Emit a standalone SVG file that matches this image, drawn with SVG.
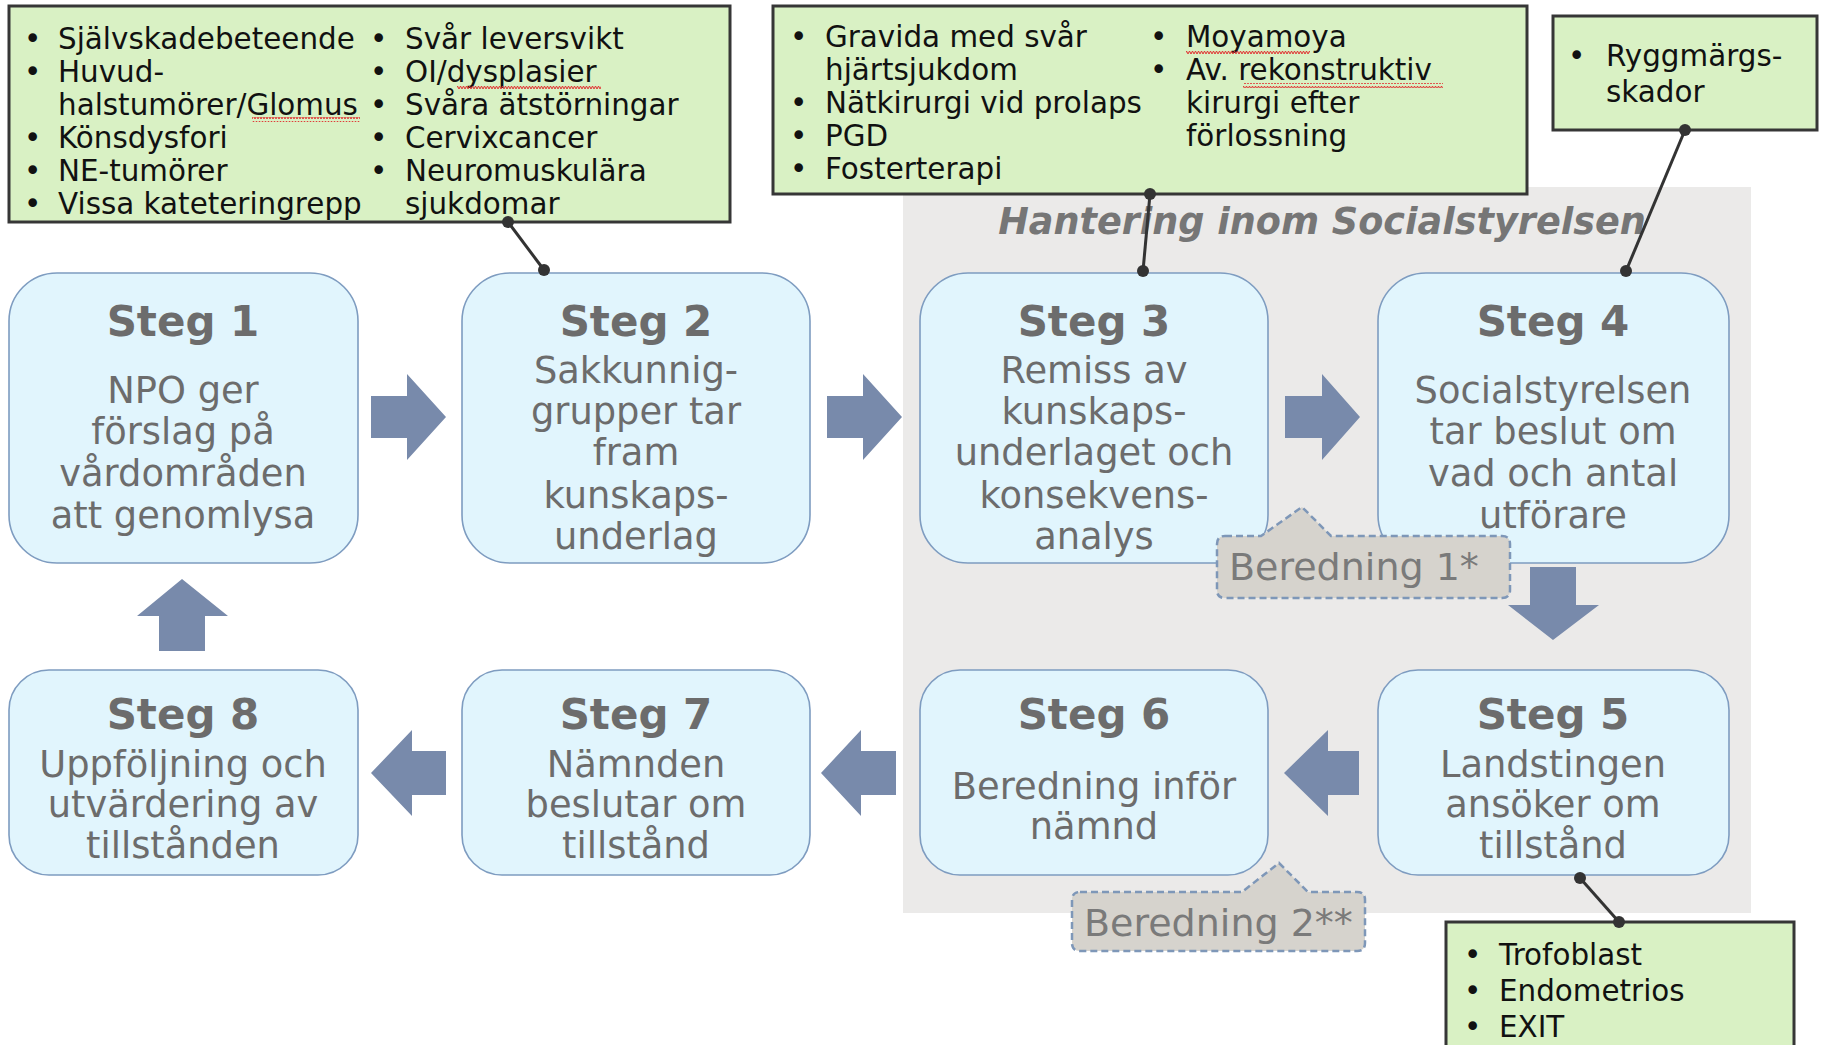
<svg xmlns="http://www.w3.org/2000/svg" width="1823" height="1045" viewBox="0 0 1823 1045">
<style>
.green{fill:#d9f1c4;stroke:#363636;stroke-width:3}
.step{fill:#e1f5fd;stroke:#7e9cc0;stroke-width:1.6}
.arrow{fill:#788aab}
.gt{font-family:"DejaVu Sans",Verdana,sans-serif;font-size:29.4px;fill:#111}
.title{font-family:"DejaVu Sans",Verdana,sans-serif;font-size:42px;font-weight:bold;fill:#6c6c6c;text-anchor:middle}
.body{font-family:"DejaVu Sans",Verdana,sans-serif;font-size:36.8px;fill:#6c6c6c;text-anchor:middle}
.ber{fill:#d6d3cd;stroke:#7e97b8;stroke-width:2.5;stroke-dasharray:7 4}
.bt{font-family:"DejaVu Sans",Verdana,sans-serif;font-size:38px;fill:#7a7a7a}
.conn{stroke:#333;stroke-width:3;fill:none}
.dot{fill:#333}
</style>
<defs>
<pattern id="wave" width="6" height="5" patternUnits="userSpaceOnUse">
<polyline points="0,4 1.5,1 3,4 4.5,1 6,4" fill="none" stroke="#e03030" stroke-width="1"/>
</pattern>
</defs>
<rect width="1823" height="1045" fill="#ffffff"/>
<rect id="socialstyrelsen-bg" x="903" y="187" width="848" height="726" fill="#ebeae9"/>
<text x="1322" y="234" text-anchor="middle" style="font-family:'DejaVu Sans',Verdana,sans-serif;font-size:36.6px;font-weight:bold;font-style:italic;fill:#767676">Hantering inom Socialstyrelsen</text>

<g id="list1">
<rect class="green" x="9" y="6" width="721" height="216"/>
<text class="gt"><tspan x="24" y="49">•</tspan><tspan x="58" y="49">Självskadebeteende</tspan><tspan x="24" y="82">•</tspan><tspan x="58" y="82">Huvud-</tspan><tspan x="58" y="115">halstumörer/Glomus</tspan><tspan x="24" y="148">•</tspan><tspan x="58" y="148">Könsdysfori</tspan><tspan x="24" y="181">•</tspan><tspan x="58" y="181">NE-tumörer</tspan><tspan x="24" y="214">•</tspan><tspan x="58" y="214">Vissa kateteringrepp</tspan></text>
<text class="gt"><tspan x="370" y="49">•</tspan><tspan x="405" y="49">Svår leversvikt</tspan><tspan x="370" y="82">•</tspan><tspan x="405" y="82">OI/dysplasier</tspan><tspan x="370" y="115">•</tspan><tspan x="405" y="115">Svåra ätstörningar</tspan><tspan x="370" y="148">•</tspan><tspan x="405" y="148">Cervixcancer</tspan><tspan x="370" y="181">•</tspan><tspan x="405" y="181">Neuromuskulära</tspan><tspan x="405" y="214">sjukdomar</tspan></text>
<rect x="252" y="117" width="108" height="5" fill="url(#wave)"/>
<rect x="457" y="84" width="144" height="5" fill="url(#wave)"/>
</g>

<g id="list2">
<rect class="green" x="773" y="6" width="754" height="188"/>
<text class="gt"><tspan x="790" y="47">•</tspan><tspan x="825" y="47">Gravida med svår</tspan><tspan x="825" y="80">hjärtsjukdom</tspan><tspan x="790" y="113">•</tspan><tspan x="825" y="113">Nätkirurgi vid prolaps</tspan><tspan x="790" y="146">•</tspan><tspan x="825" y="146">PGD</tspan><tspan x="790" y="179">•</tspan><tspan x="825" y="179">Fosterterapi</tspan></text>
<text class="gt"><tspan x="1150" y="47">•</tspan><tspan x="1186" y="47">Moyamoya</tspan><tspan x="1150" y="80">•</tspan><tspan x="1186" y="80">Av. rekonstruktiv</tspan><tspan x="1186" y="113">kirurgi efter</tspan><tspan x="1186" y="146">förlossning</tspan></text>
<rect x="1186" y="50" width="124" height="5" fill="url(#wave)"/>
<rect x="1243" y="83" width="200" height="5" fill="url(#wave)"/>
</g>

<g id="list3">
<rect class="green" x="1553" y="16" width="264" height="114"/>
<text class="gt"><tspan x="1568" y="66">•</tspan><tspan x="1606" y="66">Ryggmärgs-</tspan><tspan x="1606" y="102">skador</tspan></text>
</g>

<g id="list4">
<rect class="green" x="1446" y="922" width="348" height="140"/>
<text class="gt"><tspan x="1464" y="965">•</tspan><tspan x="1499" y="965">Trofoblast</tspan><tspan x="1464" y="1001">•</tspan><tspan x="1499" y="1001">Endometrios</tspan><tspan x="1464" y="1037">•</tspan><tspan x="1499" y="1037">EXIT</tspan></text>
</g>

<g id="steg1">
<rect class="step" x="9" y="273" width="349" height="290" rx="48"/>
<text class="title" x="183" y="336">Steg 1</text>
<text class="body"><tspan x="183" y="403">NPO ger</tspan><tspan x="183" y="444">förslag på</tspan><tspan x="183" y="486">vårdområden</tspan><tspan x="183" y="528">att genomlysa</tspan></text>
</g>
<g id="steg2">
<rect class="step" x="462" y="273" width="348" height="290" rx="48"/>
<text class="title" x="636" y="336">Steg 2</text>
<text class="body"><tspan x="636" y="383">Sakkunnig-</tspan><tspan x="636" y="424">grupper tar</tspan><tspan x="636" y="465">fram</tspan><tspan x="636" y="508">kunskaps-</tspan><tspan x="636" y="549">underlag</tspan></text>
</g>
<g id="steg3">
<rect class="step" x="920" y="273" width="348" height="290" rx="48"/>
<text class="title" x="1094" y="336">Steg 3</text>
<text class="body"><tspan x="1094" y="383">Remiss av</tspan><tspan x="1094" y="424">kunskaps-</tspan><tspan x="1094" y="465">underlaget och</tspan><tspan x="1094" y="508">konsekvens-</tspan><tspan x="1094" y="549">analys</tspan></text>
</g>
<g id="steg4">
<rect class="step" x="1378" y="273" width="351" height="290" rx="48"/>
<text class="title" x="1553" y="336">Steg 4</text>
<text class="body"><tspan x="1553" y="403">Socialstyrelsen</tspan><tspan x="1553" y="444">tar beslut om</tspan><tspan x="1553" y="486">vad och antal</tspan><tspan x="1553" y="528">utförare</tspan></text>
</g>
<g id="steg5">
<rect class="step" x="1378" y="670" width="351" height="205" rx="40"/>
<text class="title" x="1553" y="729">Steg 5</text>
<text class="body"><tspan x="1553" y="777">Landstingen</tspan><tspan x="1553" y="817">ansöker om</tspan><tspan x="1553" y="858">tillstånd</tspan></text>
</g>
<g id="steg6">
<rect class="step" x="920" y="670" width="348" height="205" rx="40"/>
<text class="title" x="1094" y="729">Steg 6</text>
<text class="body"><tspan x="1094" y="799">Beredning inför</tspan><tspan x="1094" y="839">nämnd</tspan></text>
</g>
<g id="steg7">
<rect class="step" x="462" y="670" width="348" height="205" rx="40"/>
<text class="title" x="636" y="729">Steg 7</text>
<text class="body"><tspan x="636" y="777">Nämnden</tspan><tspan x="636" y="817">beslutar om</tspan><tspan x="636" y="858">tillstånd</tspan></text>
</g>
<g id="steg8">
<rect class="step" x="9" y="670" width="349" height="205" rx="40"/>
<text class="title" x="183" y="729">Steg 8</text>
<text class="body"><tspan x="183" y="777">Uppföljning och</tspan><tspan x="183" y="817">utvärdering av</tspan><tspan x="183" y="858">tillstånden</tspan></text>
</g>

<g id="arrows">
<polygon class="arrow" points="371,396 407,396 407,374 446,417 407,460 407,438 371,438"/>
<polygon class="arrow" points="827,396 863,396 863,374 902,417 863,460 863,438 827,438"/>
<polygon class="arrow" points="1285,396 1322,396 1322,374 1360,417 1322,460 1322,438 1285,438"/>
<polygon class="arrow" points="1530,567 1576,567 1576,605 1599,605 1553,640 1508,605 1530,605"/>
<polygon class="arrow" points="1359,751 1328,751 1328,730 1284,773 1328,816 1328,795 1359,795"/>
<polygon class="arrow" points="896,751 861,751 861,730 821,773 861,816 861,795 896,795"/>
<polygon class="arrow" points="446,751 412,751 412,730 371,773 412,816 412,795 446,795"/>
<polygon class="arrow" points="159,651 205,651 205,616 228,616 182,579 137,616 159,616"/>
</g>

<g id="beredning1">
<path class="ber" d="M1225,536 H1261 L1302,507 L1331,536 H1502 Q1510,536 1510,544 V590 Q1510,598 1502,598 H1225 Q1217,598 1217,590 V544 Q1217,536 1225,536 Z"/>
<text class="bt" x="1229" y="580">Beredning 1*</text>
</g>
<g id="beredning2">
<path class="ber" d="M1080,892 H1242 L1279,863 L1308,892 H1357 Q1365,892 1365,900 V943 Q1365,951 1357,951 H1080 Q1072,951 1072,943 V900 Q1072,892 1080,892 Z"/>
<text class="bt" x="1084" y="936">Beredning 2**</text>
</g>

<g id="connectors">
<line class="conn" x1="508" y1="222" x2="544" y2="270"/>
<circle class="dot" cx="508" cy="222" r="6"/><circle class="dot" cx="544" cy="270" r="6"/>
<line class="conn" x1="1150" y1="194" x2="1143" y2="271"/>
<circle class="dot" cx="1150" cy="194" r="6"/><circle class="dot" cx="1143" cy="271" r="6"/>
<line class="conn" x1="1685" y1="130" x2="1626" y2="271"/>
<circle class="dot" cx="1685" cy="130" r="6"/><circle class="dot" cx="1626" cy="271" r="6"/>
<line class="conn" x1="1580" y1="878" x2="1619" y2="922"/>
<circle class="dot" cx="1580" cy="878" r="6"/><circle class="dot" cx="1619" cy="922" r="6"/>
</g>
</svg>
